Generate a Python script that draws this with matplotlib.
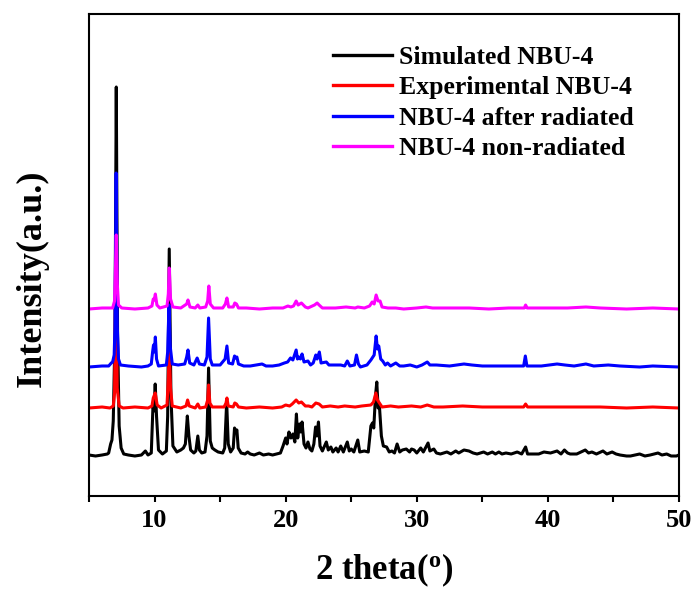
import matplotlib
matplotlib.use("Agg")
import matplotlib.pyplot as plt

# ---- data (2theta, intensity above each pattern's own baseline, arbitrary units) ----
sim_x = [5.0, 5.5, 6.0, 6.4, 6.5, 6.65, 6.75, 6.85, 6.98, 7.08, 7.18, 7.3, 7.45, 7.65, 8.0, 8.5, 9.0, 9.3, 9.5,
         9.75, 9.88, 9.95, 10.05, 10.15, 10.3, 10.6, 10.9, 11.0, 11.12, 11.25, 11.4, 11.7, 12.0, 12.2, 12.35, 12.5,
         12.62, 12.75, 13.0, 13.15, 13.3, 13.42, 13.6, 13.85, 14.0, 14.12, 14.25, 14.4, 14.6, 14.85, 15.2, 15.35,
         15.5, 15.62, 15.8, 16.0, 16.1, 16.2, 16.28, 16.38, 16.6, 16.9, 17.1, 17.3, 17.6, 18.0, 18.3, 18.7, 19.0,
         19.3, 19.6, 19.8, 20.0, 20.1, 20.25, 20.4, 20.55, 20.7, 20.82, 20.92, 21.05, 21.15, 21.25, 21.4, 21.55,
         21.7, 21.85, 22.0, 22.15, 22.28, 22.38, 22.5, 22.62, 22.8, 23.1, 23.25, 23.45, 23.6, 23.85, 24.0, 24.2,
         24.4, 24.7, 24.85, 25.0, 25.2, 25.5, 25.65, 26.0, 26.3, 26.5, 26.62, 26.72, 26.85, 26.95, 27.05, 27.15,
         27.3, 27.45, 27.7, 27.9, 28.1, 28.3, 28.5, 28.7, 28.9, 29.2, 29.45, 29.6, 29.8, 30.0, 30.3, 30.5, 30.86,
         31.0, 31.3, 31.5, 31.8, 32.3, 32.6, 32.97, 33.2, 33.6, 33.98, 34.3, 34.6, 35.1, 35.4, 35.76, 36.0, 36.26,
         36.5, 36.8, 37.2, 37.66, 38.0, 38.3, 38.45, 38.9, 39.3, 39.7, 40.2, 40.7, 41.0, 41.26, 41.5, 41.7, 42.2,
         42.85, 43.1, 43.36, 43.7, 44.2, 44.5, 44.9, 45.2, 45.5, 46.0, 46.3, 47.0, 47.4, 47.8, 48.4, 48.7, 49.06,
         49.4, 49.8, 50.0]
sim_y = [1, 0, 1, 2, 3, 12, 16, 35, 120, 369, 120, 30, 8, 2, 1, 0, 1, 5, 1,
         3, 50, 45, 72, 40, 6, 2, 5, 40, 207, 60, 10, 4, 6, 8, 12, 40,
         20, 6, 3, 5, 20, 6, 3, 4, 20, 88, 15, 8, 6, 4, 3, 8,
         54, 12, 4, 8, 28, 24, 26, 8, 3, 2, 4, 2, 1, 3, 1, 2, 1,
         2, 3, 10, 18, 12, 24, 18, 22, 14, 42, 18, 32, 24, 34, 12, 8,
         14, 7, 5, 12, 29, 20, 34, 10, 5, 14, 6, 9, 4, 8, 4, 10,
         4, 14, 5, 7, 4, 16, 4, 5, 4, 30, 33, 28, 60, 74, 48, 50,
         20, 10, 9, 4, 5, 3, 12, 4, 6, 7, 4, 7, 6, 3, 8, 4, 13,
         5, 7, 3, 2, 4, 2, 5, 3, 6, 5, 3, 2, 4, 2, 4, 2, 4,
         2, 3, 2, 4, 2, 9, 2, 2, 2, 4, 3, 5, 2, 6, 3, 2, 2,
         6, 3, 4, 2, 5, 2, 4, 2, 1, 0, 0, 2, 0, 1, 3, 1, 2,
         0, 0, 1]

exp_x = [5.0, 6.0, 6.6, 6.85, 6.95, 7.05, 7.15, 7.3, 7.6, 8.5, 9.5, 9.8, 9.9, 10.05, 10.2, 10.5, 10.95, 11.05,
         11.12, 11.22, 11.35, 12.0, 12.4, 12.52, 12.65, 13.1, 13.3, 13.45, 13.9, 14.05, 14.12, 14.22, 14.4, 15.3,
         15.45, 15.52, 15.62, 16.0, 16.12, 16.25, 16.4, 17.0, 18.0, 19.0, 19.7, 20.0, 20.3, 20.5, 20.8, 21.0, 21.2,
         21.5, 21.75, 22.0, 22.3, 22.55, 22.8, 23.4, 24.0, 24.5, 25.3, 25.8, 26.5, 26.7, 26.88, 27.0, 27.15, 27.35,
         28.0, 28.6, 29.6, 30.3, 30.8, 31.3, 32.0, 33.5, 35.0, 36.5, 37.5, 38.15, 38.3, 38.45, 40.0, 42.0, 44.0,
         46.0, 48.0, 50.0]
exp_y = [0, 1, 0, 2, 15, 150, 20, 2, 0, 1, 0, 2, 10, 15, 3, 0, 3, 30,
         60, 20, 2, 0, 2, 8, 2, 0, 4, 0, 1, 8, 23, 5, 1, 1,
         5, 10, 2, 1, 5, 4, 1, 0, 1, 0, 1, 3, 2, 4, 8, 5, 6,
         2, 2, 1, 5, 4, 1, 2, 1, 2, 1, 2, 3, 6, 15, 8, 5, 1,
         2, 1, 2, 1, 3, 1, 1, 2, 1, 1, 1, 1, 4, 1, 1, 1, 1,
         0, 1, 0]

rad_x = [5.0, 6.0, 6.5, 6.7, 6.8, 6.92, 6.98, 7.07, 7.16, 7.25, 7.4, 8.0, 9.0, 9.5, 9.75, 9.85, 9.92, 9.98, 10.06,
         10.15, 10.3, 10.9, 11.0, 11.1, 11.2, 11.35, 11.8, 12.3, 12.45, 12.55, 12.68, 13.0, 13.25, 13.42, 13.8,
         14.0, 14.12, 14.25, 14.4, 15.0, 15.38, 15.52, 15.65, 15.95, 16.1, 16.18, 16.28, 16.4, 16.8, 17.3, 18.2,
         18.5, 19.0, 19.5, 19.9, 20.15, 20.37, 20.55, 20.8, 20.9, 21.0, 21.12, 21.25, 21.4, 21.7, 21.9, 22.1, 22.3,
         22.4, 22.57, 22.7, 23.1, 23.3, 23.6, 24.2, 24.5, 24.7, 24.9, 25.25, 25.4, 25.55, 25.7, 26.2, 26.5, 26.75,
         26.9, 27.0, 27.1, 27.25, 27.4, 27.6, 27.77, 28.0, 28.4, 28.7, 29.0, 29.5, 30.0, 30.4, 30.8, 31.0, 31.5,
         32.5, 33.6, 34.2, 35.0, 36.0, 37.0, 38.15, 38.28, 38.4, 39.5, 40.7, 41.3, 42.0, 42.9, 43.5, 44.6, 45.5,
         47.0, 48.0, 50.0]
rad_y = [0, 1, 1, 4, 5, 12, 40, 194, 40, 8, 2, 1, 0, 1, 3, 15, 22, 15, 30,
         8, 1, 2, 15, 62, 20, 3, 2, 3, 10, 17, 4, 2, 9, 3, 2,
         10, 49, 8, 2, 2, 8, 21, 4, 3, 11, 9, 10, 3, 1, 1, 3,
         1, 1, 2, 4, 5, 9, 7, 17, 8, 10, 8, 13, 5, 6, 2, 4, 12,
         8, 15, 4, 5, 2, 2, 2, 1, 6, 1, 2, 12, 3, 0, 2, 7, 12,
         31, 18, 21, 8, 6, 2, 4, 1, 4, 1, 1, 2, 0, 2, 5, 2, 2,
         1, 3, 2, 1, 1, 1, 1, 11, 1, 1, 3, 2, 1, 3, 1, 2, 1,
         0, 1, 0]

non_x = [5.0, 6.0, 6.8, 6.95, 7.0, 7.08, 7.16, 7.25, 7.5, 8.5, 9.5, 9.8, 9.9, 9.97, 10.06, 10.18, 10.4, 10.95,
         11.05, 11.12, 11.22, 11.4, 12.0, 12.45, 12.55, 12.7, 13.1, 13.3, 13.45, 13.9, 14.05, 14.14, 14.25, 14.5,
         15.2, 15.4, 15.52, 15.65, 16.0, 16.12, 16.25, 16.4, 17.0, 18.0, 19.0, 19.8, 20.17, 20.4, 20.6, 20.8, 20.95,
         21.2, 21.5, 21.7, 22.2, 22.4, 22.55, 22.8, 23.3, 23.8, 24.6, 25.3, 25.5, 26.0, 26.4, 26.6, 26.75, 26.9,
         27.05, 27.2, 27.35, 27.8, 28.4, 29.0, 30.0, 30.7, 31.2, 32.5, 34.0, 35.5, 37.0, 38.2, 38.3, 38.42, 40.0,
         41.5, 42.9, 44.0, 46.0, 48.0, 50.0]
non_y = [0, 1, 1, 8, 30, 74, 25, 4, 1, 0, 1, 3, 10, 9, 15, 4, 1, 3,
         15, 41, 10, 2, 1, 5, 9, 2, 1, 4, 1, 2, 8, 23, 5, 1,
         1, 5, 11, 2, 2, 6, 5, 1, 1, 0, 1, 1, 3, 2, 3, 8, 4,
         6, 2, 1, 4, 6, 4, 1, 1, 1, 2, 1, 2, 1, 3, 7, 5, 14,
         8, 8, 2, 1, 1, 0, 1, 2, 1, 1, 1, 0, 1, 1, 4, 1, 1,
         1, 2, 1, 0, 1, 0]

labels = ["Simulated NBU-4", "Experimental NBU-4", "NBU-4 after radiated", "NBU-4 non-radiated"]
offsets = [40, 88, 129, 187]
colors = ["#000000", "#ff0000", "#0000ff", "#ff00ff"]
xs = [sim_x, exp_x, rad_x, non_x]
ys = [sim_y, exp_y, rad_y, non_y]

# ---- style ----
plt.rcParams['font.family'] = ['Liberation Serif', 'DejaVu Serif']
plt.rcParams['font.weight'] = 'bold'
plt.rcParams['mathtext.fontset'] = 'custom'
plt.rcParams['mathtext.rm'] = 'Liberation Serif:bold'
plt.rcParams['mathtext.it'] = 'Liberation Serif:bold'
plt.rcParams['mathtext.bf'] = 'Liberation Serif:bold'

fig = plt.figure(figsize=(6.94, 5.90), dpi=100)
ax = fig.add_axes([89 / 694, (590 - 496) / 590, (679 - 89) / 694, (496 - 14) / 590])

for x, y, off, c, lab in zip(xs, ys, offsets, colors, labels):
    ax.plot(x, [v + off for v in y], color=c, lw=2.2, label=lab, solid_joinstyle='round')

ax.set_xlim(5, 50)
ax.set_ylim(0, 482)
ax.set_xticks([10, 20, 30, 40, 50])
ax.set_xticks([5, 15, 25, 35, 45], minor=True)
ax.set_yticks([])
ax.tick_params(axis='x', which='major', direction='out', length=4.5, width=1.5, labelsize=19, pad=5)
ax.tick_params(axis='x', which='minor', direction='out', length=4.5, width=1.5)
for s in ax.spines.values():
    s.set_linewidth(1.5)

ax.set_xlabel(r'2 theta($^{\mathrm{o}}$)', fontsize=25, fontweight='bold', labelpad=14)
ax.set_ylabel('Intensity(a.u.)', fontsize=26, fontweight='bold')
ax.yaxis.set_label_coords((49 - 89) / 590, (496 - 278) / 482)

leg = ax.legend(loc='upper left', bbox_to_anchor=((333 - 89) / 590, (496 - 46) / 482),
                frameon=False, fontsize=18.5, handlelength=2.3, handletextpad=0.25,
                labelspacing=0.29, borderpad=0, borderaxespad=0)
for line in leg.get_lines():
    line.set_linewidth(2.4)

fig.savefig('out.png', dpi=100)
